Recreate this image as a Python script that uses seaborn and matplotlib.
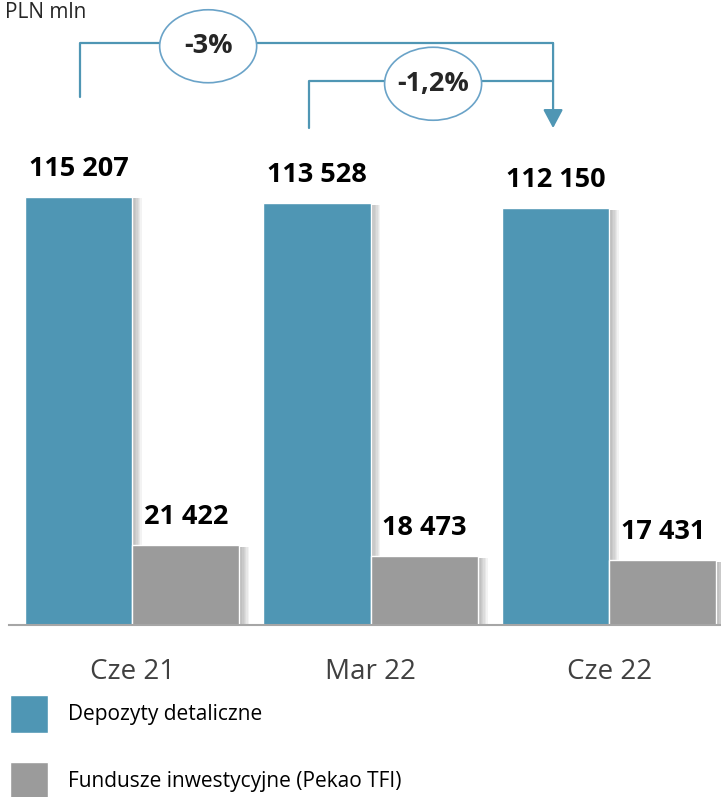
import pandas as pd
import matplotlib
matplotlib.use("Agg")
import matplotlib.pyplot as plt
import matplotlib.patheffects as pe
from matplotlib.patches import Ellipse
from matplotlib.transforms import blended_transform_factory
import seaborn as sns

# data (PLN mln)
periods = ["Cze 21", "Mar 22", "Cze 22"]
series_names = ["Depozyty detaliczne", "Fundusze inwestycyjne (Pekao TFI)"]
deposits = [115207, 113528, 112150]
funds = [21422, 18473, 17431]
changes = ["-3%", "-1,2%"]

BLUE = "#4F96B4"
GRAY = "#9B9B9B"
LINE = "#4F96B4"

df = pd.DataFrame({
    "period": periods * 2,
    "series": [series_names[0]] * 3 + [series_names[1]] * 3,
    "value": deposits + funds,
})

sns.set_style("white")
plt.rcParams["font.family"] = ["Open Sans", "DejaVu Sans"]

W, H = 721, 797
fig = plt.figure(figsize=(W / 100, H / 100), dpi=100)
ax = fig.add_axes([9 / W, (H - 625) / H, (W - 9) / W, 625 / H])

sns.barplot(
    data=df, x="period", y="value", hue="series",
    palette=[BLUE, GRAY], width=0.9, gap=0, saturation=1,
    errorbar=None, ax=ax,
)

ax.set_xlim(-0.516, 2.469)
ax.set_ylim(0, max(deposits) * 625 / 428)

# value labels
for cont in ax.containers:
    labels = [f"{b.get_height():,.0f}".replace(",", " ") for b in cont]
    ax.bar_label(cont, labels=labels, padding=11, fontsize=19.5,
                 fontweight="bold", color="black")

ax.set_xlabel("")
ax.set_ylabel("")
ax.set_yticks([])
for s in ["top", "right", "left"]:
    ax.spines[s].set_visible(False)
ax.spines["bottom"].set_color("#A6A6A6")
ax.spines["bottom"].set_linewidth(1.5)
ax.tick_params(axis="x", length=0, pad=24, labelsize=20, labelcolor="#404040")

# legend
handles, labels = ax.get_legend_handles_labels()
ax.get_legend().remove()
fig.legend(
    handles, labels, loc="upper left", bbox_to_anchor=(10 / W, 1 - 695 / H),
    frameon=False, fontsize=15, handlelength=1.82, handleheight=2.43,
    handletextpad=0.95, labelspacing=1.39, borderpad=0, borderaxespad=0,
    labelcolor="black",
)

# soft shadow to the right of the bars
shadow = [pe.SimplePatchShadow(offset=(k, -1), shadow_rgbFace="#555555", alpha=0.07)
          for k in range(7, 0, -1)]
for bar in ax.patches:
    bar.set_path_effects(shadow + [pe.Normal()])

# unit text
fig.text(86 / W, 1 - 18 / H, "PLN mln", ha="right", va="baseline", fontsize=15)

# change brackets
tr = blended_transform_factory(ax.transData, ax.transAxes)
x0, x1, x2 = -0.218, 0.742, 1.765
ax.plot([x0, x0, x2], [0.845, 0.931, 0.931], color=LINE, lw=1.6,
        transform=tr, clip_on=False)
ax.plot([x1, x1, x2], [0.795, 0.870, 0.870], color=LINE, lw=1.6,
        transform=tr, clip_on=False)
ax.annotate("", xy=(x2, 0.795), xytext=(x2, 0.931), xycoords=tr, textcoords=tr,
            arrowprops=dict(arrowstyle="-|>,head_length=0.75,head_width=0.4",
                            mutation_scale=15, color=LINE, lw=1.6,
                            shrinkA=0, shrinkB=0), annotation_clip=False)

for (cx, cy), txt in zip([(0.319, 0.926), (1.262, 0.866)], changes):
    e = Ellipse((cx, cy), 97 / 238.5, 73 / 625, transform=tr,
                facecolor="white", edgecolor="#6AA3C8", lw=1.2,
                zorder=5, clip_on=False)
    ax.add_patch(e)
    ax.text(cx, cy, txt, transform=tr, ha="center", va="center",
            fontsize=19.5, fontweight="bold", zorder=6)

fig.savefig("out.png", dpi=100)
